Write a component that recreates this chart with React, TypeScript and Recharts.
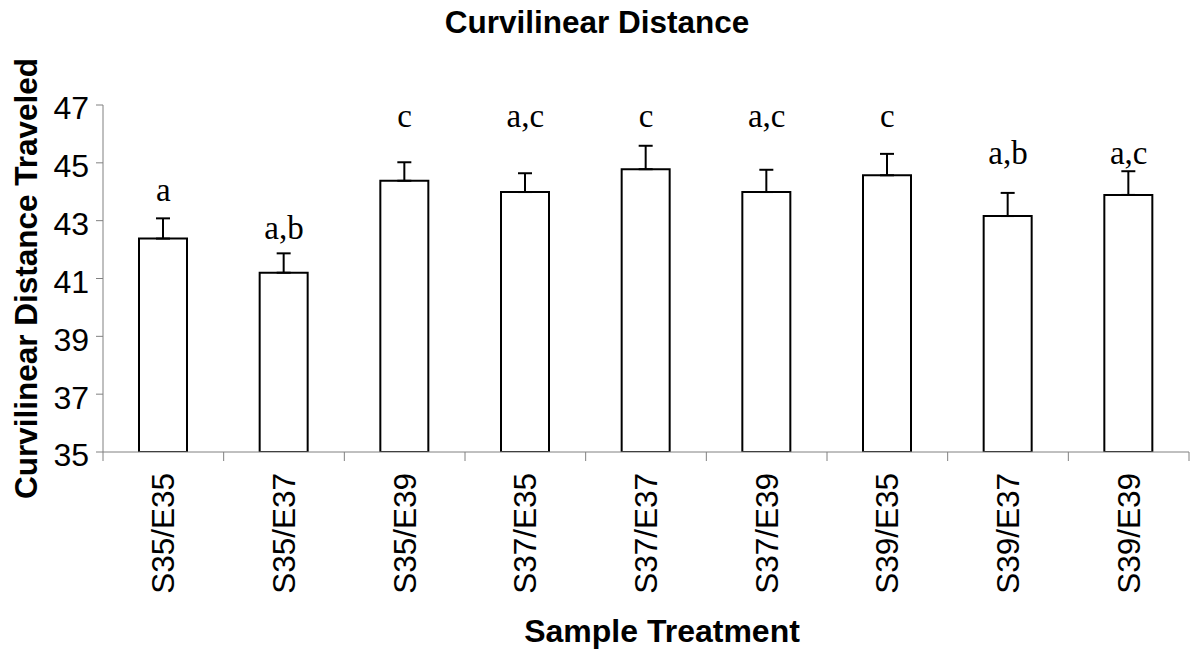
import { Bar, ComposedChart, ErrorBar, Label, LabelList, Line, XAxis, YAxis } from "recharts"

const treatments = ["S35/E35", "S35/E37", "S35/E39", "S37/E35", "S37/E37", "S37/E39", "S39/E35", "S39/E37", "S39/E39"]
const meanDistance = [42.38, 41.2, 44.38, 43.99, 44.78, 43.99, 44.57, 43.16, 43.89]
const standardError = [0.7, 0.67, 0.64, 0.65, 0.81, 0.77, 0.74, 0.8, 0.82]
const groupLetters = ["a", "a,b", "c", "a,c", "c", "a,c", "c", "a,b", "a,c"]
// level (in axis units) where each letter's baseline sits
const letterLevel = [43.68, 42.37, 46.23, 46.23, 46.23, 46.23, 46.23, 44.97, 44.97]
const yTicks = [35, 37, 39, 41, 43, 45, 47]

const WIDTH = 1191
const HEIGHT = 653
const MARGIN = { top: 105, right: 2, bottom: 11, left: 0 }
const Y_AXIS_WIDTH = 103
const HALF_BAND = (WIDTH - MARGIN.left - MARGIN.right - Y_AXIS_WIDTH) / treatments.length / 2

const sans = "'Liberation Sans', Arial, sans-serif"
const serif = "'Liberation Serif', 'Times New Roman', serif"
const axisGrey = "#808080"

const data = treatments.map((treatment, i) => ({
    treatment,
    mean: meanDistance[i],
    seRange: [0, standardError[i]],
    letter: groupLetters[i],
    letterY: letterLevel[i],
}))

//X tick: rotated label plus tick marks on the category boundaries.
function TreatmentTick(props: any) {
    const { x, y, payload, index } = props
    const tx = x + 11
    const ty = y + 21
    return (
        <g>
            <line x1={x - HALF_BAND} x2={x - HALF_BAND} y1={y} y2={y + 9} stroke={axisGrey} />
            {index === treatments.length - 1 && (
                <line x1={x + HALF_BAND} x2={x + HALF_BAND} y1={y} y2={y + 9} stroke={axisGrey} />
            )}
            <text
                x={tx}
                y={ty}
                transform={`rotate(-90, ${tx}, ${ty})`}
                textAnchor="end"
                fontFamily={sans}
                fontSize={31.5}
                fill="#000"
            >
                {payload.value}
            </text>
        </g>
    )
}

function YTitle(props: any) {
    const { viewBox } = props
    const cx = 26
    const cy = viewBox.y + viewBox.height / 2
    return (
        <text
            x={cx}
            y={cy}
            transform={`rotate(-90, ${cx}, ${cy})`}
            textAnchor="middle"
            dominantBaseline="central"
            fontFamily={sans}
            fontWeight="bold"
            fontSize={31.5}
            fill="#000"
        >
            Curvilinear Distance Traveled
        </text>
    )
}

function XTitle() {
    return (
        <text x={662} y={642} textAnchor="middle" fontFamily={sans} fontWeight="bold" fontSize={32} fill="#000">
            Sample Treatment
        </text>
    )
}

export default function App() {
    return (
        <div style={{ position: "absolute", left: 0, top: 0, width: WIDTH, height: HEIGHT, background: "#fff" }}>
            <ComposedChart width={WIDTH} height={HEIGHT} data={data} margin={MARGIN}>
                <text x={597} y={33} textAnchor="middle" fontFamily={sans} fontWeight="bold" fontSize={31.5} fill="#000">
                    Curvilinear Distance
                </text>
                <XAxis
                    dataKey="treatment"
                    height={190}
                    interval={0}
                    tickLine={false}
                    tickSize={0}
                    tickMargin={0}
                    stroke={axisGrey}
                    tick={<TreatmentTick />}
                >
                    <Label content={<XTitle />} />
                </XAxis>
                <YAxis
                    width={Y_AXIS_WIDTH}
                    domain={[35, 47]}
                    ticks={yTicks}
                    allowDataOverflow
                    tickSize={7}
                    tickMargin={7}
                    stroke={axisGrey}
                    tick={{ fill: "#000", fontSize: 32, fontFamily: sans, dy: 3 }}
                >
                    <Label content={<YTitle />} />
                </YAxis>
                <Bar dataKey="mean" fill="#fff" stroke="#000" strokeWidth={2} barSize={48} isAnimationActive={false}>
                    <ErrorBar dataKey="seRange" direction="y" width={7} stroke="#000" strokeWidth={2} />
                </Bar>
                <Line dataKey="letterY" stroke="none" dot={false} activeDot={false} legendType="none" isAnimationActive={false}>
                    <LabelList dataKey="letter" position="top" offset={0} fontFamily={serif} fontSize={33} fill="#000" />
                </Line>
            </ComposedChart>
        </div>
    )
}
